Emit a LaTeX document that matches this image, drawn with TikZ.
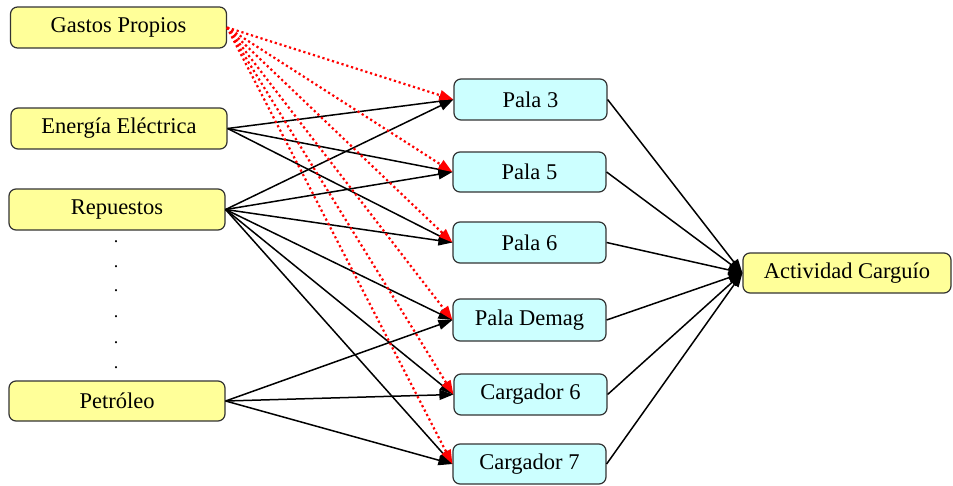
\documentclass[tikz,border=0pt]{standalone}
\usepackage{fontspec}
\setmainfont{Liberation Serif}
\usetikzlibrary{arrows.meta}
\definecolor{srcfill}{HTML}{FFFF99}
\definecolor{eqfill}{HTML}{CCFFFF}
\definecolor{boxline}{HTML}{333333}
\begin{document}
\begin{tikzpicture}[x=1pt,y=-1pt,
  box/.style={draw=boxline, line width=1.2pt, rounded corners=7pt, inner sep=0pt,
    font=\fontsize{22.5}{26}\selectfont, anchor=center},
  src/.style={box, fill=srcfill, minimum width=216pt, minimum height=41pt},
  equip/.style={box, fill=eqfill, minimum width=153pt, minimum height=41pt},
  goal/.style={box, fill=srcfill, minimum width=208pt, minimum height=40pt},
  feed/.style={line width=1.5pt, -{Triangle[length=14pt,width=10pt]}},
  cost/.style={line width=2.2pt, red, dash pattern=on 2.2pt off 2.8pt,
    -{Triangle[length=14pt,width=10pt]}},
  gap/.style={font=\fontsize{18}{20}\selectfont, inner sep=0pt, anchor=base}]
\useasboundingbox (0,0) rectangle (953,485);

% cost sources
\node[src] (gp)  at (118.5,27.5) {Gastos Propios};
\node[src] (ee)  at (119,128.5)  {Energía Eléctrica};
\node[src] (rep) at (117,209.5)  {Repuestos};
\node[src, minimum height=40pt] (pet) at (117,401) {Petróleo};

% vertical ellipsis between the sources
\foreach \i/\yy in {1/242,2/267,3/291,4/317,5/343,6/368}
  \node[gap] (dot\i) at (116,\yy) {.};

% equipment
\node[equip] (p3) at (530.5,99.5) {Pala 3};
\node[equip, minimum height=40pt] (p5) at (529.5,172) {Pala 5};
\node[equip] (p6) at (529.5,242.5) {Pala 6};
\node[equip, minimum height=42pt] (pd) at (529.5,320) {Pala Demag};
\node[equip] (c6) at (530.5,394.5) {Cargador 6};
\node[equip, minimum height=40pt] (c7) at (529.5,464) {Cargador 7};

% activity
\node[goal] (ac) at (847,273) {Actividad Carguío};

% resource flows
\foreach \t in {p3,p5,p6}
  \draw[feed] (ee.east) -- (\t.west);
\foreach \t in {p3,p5,p6,pd,c6,c7}
  \draw[feed] (rep.east) -- (\t.west);
\foreach \t in {pd,c6,c7}
  \draw[feed] (pet.east) -- (\t.west);

% equipment to activity
\foreach \s in {p3,p5,p6,pd,c6,c7}
  \draw[feed] (\s.east) -- (ac.west);

% own costs spread over all equipment
\foreach \t in {p3,p5,p6,pd,c6,c7}
  \draw[cost] (gp.east) -- (\t.west);
\end{tikzpicture}
\end{document}
